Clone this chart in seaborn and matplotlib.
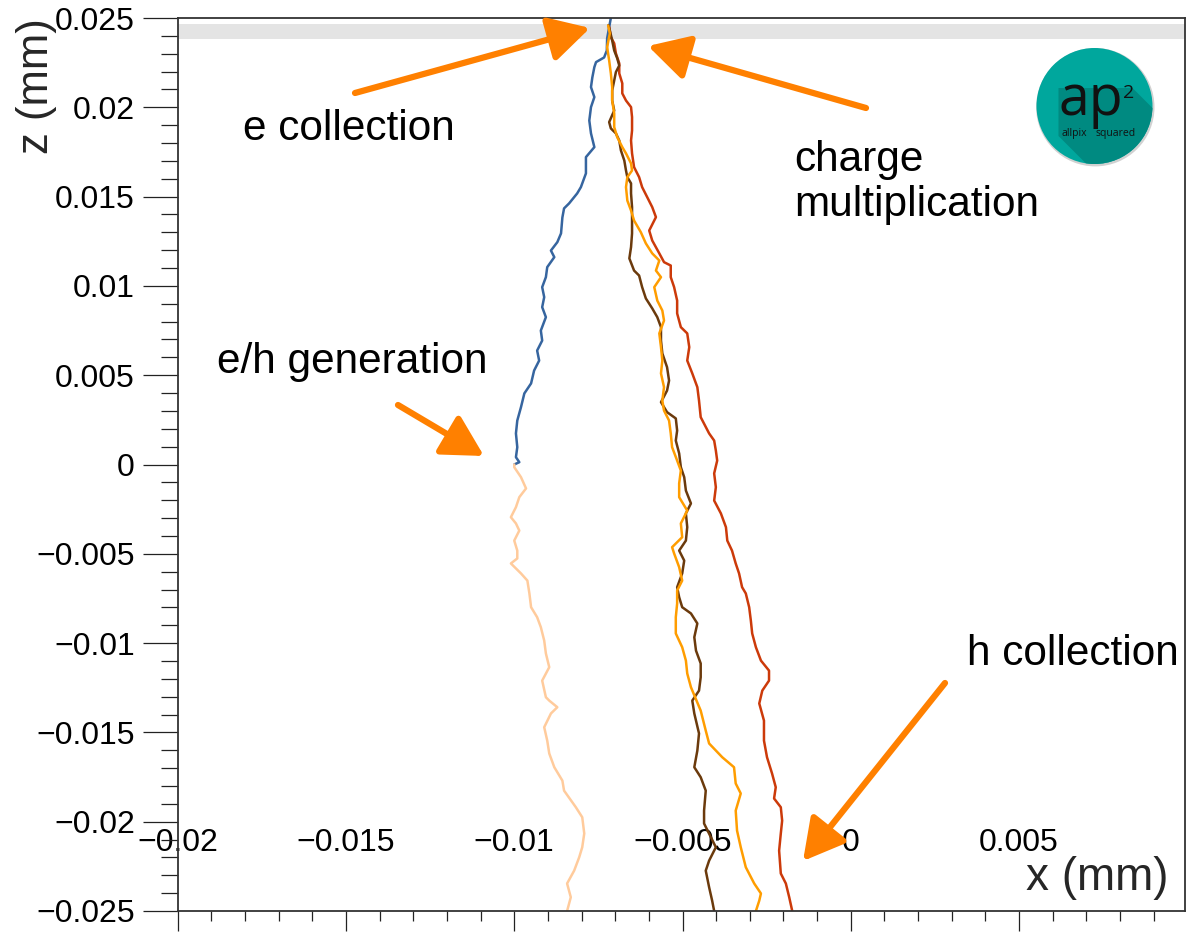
import numpy as np
import pandas as pd
import matplotlib
matplotlib.use("Agg")
import matplotlib.pyplot as plt
import seaborn as sns
from matplotlib.ticker import MultipleLocator
from matplotlib.patches import Circle, Polygon

# ---------------- data (micrometres) ----------------
blue_x = [-7.13, -7.24, -7.25, -7.33, -7.57, -7.62, -7.68, -7.72, -7.62, -7.72, -7.77, -7.72, -7.62,
          -7.87, -7.87, -8.02, -8.13, -8.37, -8.52, -8.57, -8.61, -8.72, -8.91, -8.81, -9.02, -9.06,
          -9.17, -9.11, -9.17, -9.06, -9.21, -9.17, -9.32, -9.26, -9.41, -9.50, -9.70, -9.80, -9.91,
          -9.95, -9.91, -9.95, -9.85, -10.0]
blue_z = [25.0, 23.86, 23.18, 22.79, 22.53, 22.25, 21.67, 21.13, 20.57, 20.01, 19.26, 18.54, 17.77,
          17.21, 16.30, 15.53, 15.18, 14.62, 14.34, 13.83, 12.94, 12.45, 11.98, 11.61, 11.05, 10.49,
          9.93, 9.37, 8.81, 8.25, 7.50, 6.94, 6.38, 5.82, 5.26, 4.54, 3.98, 3.21, 2.46,
          1.74, 0.97, 0.41, 0.13, 0.0]

peach_x = [-10.0, -10.0, -9.80, -9.65, -9.85, -9.95, -10.10, -9.95, -9.85, -10.0, -9.91, -9.91,
           -10.10, -9.80, -9.61, -9.55, -9.50, -9.32, -9.21, -9.11, -9.06, -8.96, -9.17, -9.06,
           -8.96, -8.72, -8.91, -9.11, -9.02, -8.96, -8.81, -8.57, -8.52, -8.17, -7.98, -7.92,
           -7.98, -8.07, -8.22, -8.43, -8.32, -8.43]
peach_z = [0.0, -0.15, -0.71, -1.34, -1.83, -2.39, -2.95, -3.30, -3.70, -4.26, -4.82, -5.26,
           -5.54, -6.10, -6.50, -7.22, -7.99, -8.55, -9.11, -9.86, -10.58, -11.35, -12.10, -13.03,
           -13.22, -13.59, -13.94, -14.71, -15.46, -16.18, -16.95, -17.70, -18.26, -19.19, -19.75,
           -20.66, -21.43, -21.99, -22.74, -23.46, -24.23, -25.0]

brown_x = [-7.20, -7.16, -7.09, -7.03, -6.94, -6.88, -6.98, -7.03, -7.09, -7.09, -7.03, -7.18, -7.13,
           -6.98, -6.88, -6.83, -6.73, -6.68, -6.64, -6.53, -6.53, -6.50, -6.50, -6.50, -6.53, -6.58,
           -6.44, -6.29, -6.20, -6.09, -5.90, -5.75, -5.64, -5.64, -5.60, -5.46, -5.40, -5.46, -5.64,
           -5.46, -5.20, -5.16, -5.20, -5.10, -5.05, -4.95, -4.90, -4.75, -4.90, -4.86, -4.90, -5.10,
           -4.95, -5.01, -5.16, -5.10, -5.01, -4.75, -4.56, -4.65, -4.60, -4.46, -4.46, -4.51, -4.71,
           -4.65, -4.51, -4.56, -4.65, -4.46, -4.31, -4.36, -4.36, -4.01, -4.21, -4.31, -4.21, -4.12,
           -4.06]
brown_z = [24.6, 24.30, 23.74, 23.18, 22.74, 22.34, 21.97, 21.50, 20.94, 20.38, 19.82, 19.17, 18.82,
           18.54, 18.14, 17.58, 17.02, 16.46, 16.09, 15.74, 15.18, 14.41, 13.66, 12.94, 12.17, 11.54,
           10.86, 10.58, 9.93, 9.30, 8.74, 8.25, 7.69, 6.94, 6.22, 5.45, 4.70, 4.14, 3.49,
           2.93, 2.58, 1.90, 1.34, 0.62, -0.15, -0.71, -1.46, -2.18, -2.74, -3.51, -4.26, -4.82,
           -5.38, -6.10, -6.87, -7.43, -7.99, -8.34, -8.90, -9.67, -10.42, -11.14, -11.91, -12.66, -13.22,
           -13.94, -15.06, -16.02, -16.95, -17.51, -18.26, -19.38, -20.10, -21.43, -22.18, -22.74, -23.67,
           -24.42, -25.0]

orange_x = [-7.21, -7.16, -7.24, -7.18, -7.13, -7.09, -7.09, -7.03, -7.03, -6.94, -6.79, -6.68, -6.53,
            -6.50, -6.64, -6.68, -6.64, -6.53, -6.44,
            -6.24, -6.09, -5.90, -5.69, -5.79, -5.64, -5.84, -5.75, -5.60, -5.55, -5.69, -5.64, -5.60,
            -5.64, -5.55, -5.60, -5.55, -5.40, -5.35, -5.31, -5.16,
            -5.05, -5.10, -5.10, -4.86, -5.05, -5.01, -5.31, -5.25, -5.10, -5.01, -5.16, -5.16, -5.20,
            -5.20, -5.01, -4.90, -4.86, -4.75,
            -4.46, -4.31, -4.21, -3.82, -3.47, -3.42, -3.27, -3.42, -3.38, -3.27, -3.12, -2.87, -2.67,
            -2.72, -2.82]
orange_z = [24.58, 24.14, 23.37, 22.62, 21.90, 21.13, 20.38, 19.66, 18.89, 18.33, 17.77, 17.42, 16.86,
            16.46, 16.09, 15.53, 14.78, 14.22, 13.66,
            13.01, 12.38, 11.82, 11.42, 10.86, 10.49, 9.93, 9.18, 8.62, 8.06, 7.34, 6.57, 5.82,
            5.10, 4.33, 3.58, 3.02, 2.46, 1.74, 0.97, 0.22,
            -0.34, -1.06, -1.83, -2.58, -3.30, -4.07, -4.63, -4.98, -5.75, -6.50, -7.06, -7.78, -8.55,
            -9.46, -10.23, -10.98, -11.70, -12.47,
            -13.78, -14.90, -15.62, -16.39, -16.95, -17.86, -18.42, -19.38, -20.50, -21.43, -22.55, -23.46,
            -24.02, -24.42, -25.0]

red_x = [-7.18, -7.13, -7.03, -6.98, -6.88, -6.88, -6.79, -6.79, -6.68, -6.53, -6.50, -6.50, -6.53,
         -6.50, -6.44, -6.29, -6.20, -6.05, -5.90, -5.79,
         -5.99, -5.90, -5.69, -5.55, -5.35, -5.35, -5.25, -5.16, -5.16, -5.05, -4.86, -4.80, -4.86,
         -4.71, -4.56, -4.51, -4.46, -4.21, -4.06, -4.01, -3.97,
         -4.06, -4.01, -4.06, -3.86, -3.71, -3.67, -3.53, -3.42, -3.32, -3.23, -3.12, -3.02, -2.97,
         -2.93, -2.82, -2.67, -2.43, -2.43,
         -2.63, -2.72, -2.58, -2.58, -2.49, -2.34, -2.23, -2.28, -2.08, -2.04, -2.08, -2.13, -2.08,
         -1.93, -1.83, -1.74]
red_z = [24.5, 23.93, 23.58, 23.02, 22.46, 21.90, 21.34, 20.78, 20.38, 20.01, 19.45, 18.70, 18.14,
         17.42, 16.65, 16.09, 15.53, 14.97, 14.41, 13.85,
         13.10, 12.54, 11.82, 11.33, 11.14, 10.49, 9.93, 9.18, 8.46, 7.69, 7.34, 6.57, 5.82,
         5.10, 4.33, 3.58, 2.65, 1.74, 1.34, 0.78, 0.22,
         -0.50, -1.27, -2.02, -2.74, -3.51, -4.26, -4.82, -5.54, -6.10, -6.87, -7.22, -7.99, -8.74,
         -9.46, -10.23, -10.98, -11.54, -12.10,
         -12.66, -13.38, -14.34, -15.46, -16.39, -17.30, -18.07, -18.70, -19.19, -19.94, -20.66, -21.62, -22.90,
         -23.46, -24.23, -25.0]

track_names = ["e drift", "h drift", "h mult 1", "h mult 2", "h mult 3"]
track_colors = ["#36659f", "#ffcb9c", "#cc3a0a", "#6b3a0c", "#ff9d00"]

x_ticks = [-0.02, -0.015, -0.01, -0.005, 0.0, 0.005]
x_tick_labels = ["\u22120.02", "\u22120.015", "\u22120.01", "\u22120.005", "0", "0.005"]
y_ticks = [0.025, 0.02, 0.015, 0.01, 0.005, 0.0, -0.005, -0.01, -0.015, -0.02, -0.025]
y_tick_labels = ["0.025", "0.02", "0.015", "0.01", "0.005", "0", "\u22120.005", "\u22120.01",
                 "\u22120.015", "\u22120.02", "\u22120.025"]
sensor_band = [0.0238, 0.02466]

annotations = ["e collection", "charge", "multiplication", "e/h generation", "h collection"]

# ---------------- build data frame ----------------
tracks_x = [blue_x, peach_x, red_x, brown_x, orange_x]
tracks_z = [blue_z, peach_z, red_z, brown_z, orange_z]
frames = []
for name, xs, zs in zip(track_names, tracks_x, tracks_z):
    frames.append(pd.DataFrame({"x": np.array(xs) / 1000.0,
                                "z": np.array(zs) / 1000.0,
                                "track": name}))
df = pd.concat(frames, ignore_index=True)

# ---------------- style ----------------
sns.set_style("ticks")
plt.rcParams["font.family"] = ["Liberation Sans", "DejaVu Sans"]
plt.rcParams["axes.unicode_minus"] = True

W, H = 1187, 933
fig = plt.figure(figsize=(W / 100, H / 100), dpi=100)
L, R, T, B = 177.7, 1185, 18, 911
ax = fig.add_axes([L / W, (H - B) / H, (R - L) / W, (B - T) / H])

ax.axhspan(sensor_band[0], sensor_band[1], color="#e4e4e4", lw=0, zorder=0)

sns.lineplot(data=df, x="x", y="z", hue="track", hue_order=track_names,
             palette=dict(zip(track_names, track_colors)), sort=False, estimator=None,
             legend=False, lw=1.8, ax=ax)

ax.set_xlim(-0.02, 0.00993)
ax.set_ylim(-0.025, 0.025)
ax.set_xticks(x_ticks)
ax.set_xticklabels(x_tick_labels)
ax.set_yticks(y_ticks)
ax.set_yticklabels(y_tick_labels)
ax.xaxis.set_minor_locator(MultipleLocator(0.001))
ax.yaxis.set_minor_locator(MultipleLocator(0.001))

tc = "#222222"
ax.tick_params(axis="y", which="major", direction="out", length=25, width=0.9, pad=5.8,
               labelsize=23, color=tc, labelcolor="black")
ax.tick_params(axis="y", which="minor", direction="out", length=12.2, width=0.9, color=tc)
ax.tick_params(axis="x", which="major", direction="out", length=14.4, width=0.9, pad=-74,
               labelsize=23, color=tc, labelcolor="black")
ax.tick_params(axis="x", which="minor", direction="out", length=7.2, width=0.9, color=tc)
for s in ax.spines.values():
    s.set_visible(True)
    s.set_color("#333333")
    s.set_linewidth(1.3)

ax.set_xlabel("x (mm)", fontsize=33, loc="right")
ax.xaxis.label.set_va("baseline")
ax.xaxis.set_label_coords((1168 - L) / (R - L), (B - 890) / (B - T))
ax.set_ylabel("z (mm)", fontsize=31.5, loc="top")
ax.yaxis.set_label_coords((57 - L) / (R - L), 1.0)


def af(px, py):
    return ((px - L) / (R - L), (B - py) / (B - T))


# texts
txt_pos = [(243, 140), (794, 171), (794, 216), (217, 373), (967, 665)]
for s, (px, py) in zip(annotations, txt_pos):
    ax.text(*af(px, py), s, transform=ax.transAxes, fontsize=30.5, ha="left", va="baseline",
            color="black", zorder=6)

# arrows
arrow_col = "#ff8000"
arrows = [((355, 93), (590, 28)), ((866, 108), (648, 46)), ((398, 405), (484, 456)),
          ((945, 683), (803, 861))]
for tail, tip in arrows:
    ax.annotate("", xy=af(*tip), xycoords="axes fraction", xytext=af(*tail),
                textcoords="axes fraction",
                arrowprops=dict(arrowstyle="-|>,head_length=0.8,head_width=0.44", lw=4.5,
                                color=arrow_col, shrinkA=0, shrinkB=0, mutation_scale=31),
                zorder=7)

# logo
cx, cy, rr = 1094.5, 106, 58
lax = fig.add_axes([(cx - 64) / W, (H - cy - 64) / H, 128 / W, 128 / H])
lax.set_xlim(-64, 64)
lax.set_ylim(-64, 64)
lax.axis("off")
lax.add_patch(Circle((0.8, -1.2), rr + 1.2, color="#9a9a9a", alpha=0.45, lw=0))
circ = Circle((0, 0), rr, color="#00a79d", lw=0)
lax.add_patch(circ)
x0, x1, y0, y1, Ls = -36, 38, -30, 18, 110
shadow = Polygon([(x0, y1), (x1, y1), (x1 + Ls, y1 - Ls), (x1 + Ls, y0 - Ls), (x0 + Ls, y0 - Ls),
                  (x0, y0)], closed=True, color="#008a81", lw=0)
lax.add_patch(shadow)
shadow.set_clip_path(circ)
logo_font = ["Open Sans", "DejaVu Sans"]
lax.text(-4, -9, "ap", fontsize=40, family=logo_font, ha="center", va="baseline",
         color="#111111")
lax.text(34, 8, "2", fontsize=14, family=logo_font, ha="center", va="baseline",
         color="#111111")
lax.text(-7.5, -30, "allpix", fontsize=7.5, family=logo_font, ha="right", va="baseline",
         color="#111111")
lax.text(0.8, -30, "squared", fontsize=7.5, family=logo_font, ha="left", va="baseline",
         color="#111111")

fig.savefig("out.png", dpi=100, facecolor="white")
